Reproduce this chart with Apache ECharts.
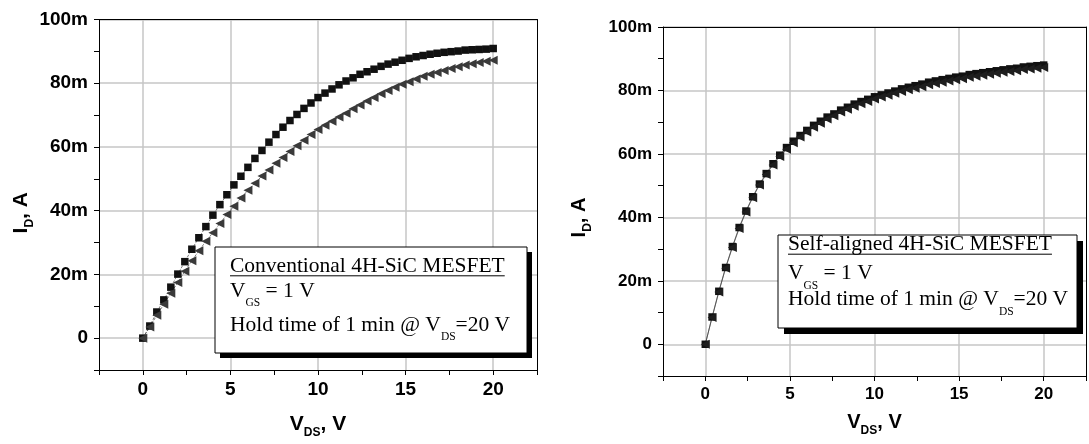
<!DOCTYPE html>
<html>
<head>
<meta charset="utf-8">
<script src="https://cdn.jsdelivr.net/npm/echarts@6/dist/echarts.min.js"></script>
<style>
html,body{margin:0;padding:0;background:#fff;}
#chart{width:1089px;height:444px;}
</style>
</head>
<body>
<div id="chart"></div>
<script>
// ---- data (V_DS in V, I_D in mA) ----
const vds = [0,0.4,0.8,1.2,1.6,2,2.4,2.8,3.2,3.6,4,4.4,4.8,5.2,5.6,6,6.4,6.8,7.2,7.6,8,8.4,8.8,9.2,9.6,10,10.4,10.8,11.2,11.6,12,12.4,12.8,13.2,13.6,14,14.4,14.8,15.2,15.6,16,16.4,16.8,17.2,17.6,18,18.4,18.8,19.2,19.6,20];
const convSquares = [0,3.8,8.2,12,16,20.1,24,27.9,31.5,35,38.6,41.9,45,48.1,50.8,53.6,56.4,58.9,61.5,63.9,66.2,68.3,70.2,72.1,73.8,75.5,76.9,78.2,79.5,80.7,81.7,82.8,83.6,84.4,85.3,86,86.6,87.2,87.8,88.3,88.7,89.1,89.4,89.7,89.9,90.1,90.4,90.5,90.6,90.7,90.9];
const convTriangles = [0,3.5,7.2,10.6,14.1,17.5,21,24.3,27.4,30.4,33.1,36,38.8,41.4,44,46.4,48.6,50.9,52.8,54.9,56.7,58.6,60.4,62.1,63.9,65.5,66.8,68.1,69.4,70.6,72,73.2,74.4,75.5,76.7,77.7,78.7,79.7,80.5,81.3,82.2,82.8,83.4,84,84.6,85.2,85.7,86.1,86.5,86.9,87.2];
const selfSquares = [0,8.6,16.7,24.2,30.8,36.8,42,46.5,50.5,53.8,56.9,59.6,62,64,65.8,67.4,69,70.3,71.6,72.6,73.8,74.7,75.7,76.5,77.2,78,78.6,79.2,79.8,80.5,81,81.5,82,82.6,83,83.4,83.8,84.2,84.5,85,85.3,85.6,85.9,86.2,86.5,86.8,87,87.4,87.6,87.8,88];
const selfTriangles = [0,8.4,16.5,24,30.5,36.5,41.7,46.2,50.2,53.5,56.5,59.2,61.5,63.5,65.3,66.9,68.4,69.7,71,72,73.2,74.1,75,75.8,76.5,77.3,77.9,78.5,79.1,79.7,80.2,80.7,81.2,81.8,82.2,82.6,83,83.4,83.7,84.2,84.5,84.8,85.1,85.4,85.7,86,86.2,86.6,86.8,87,87.2];
const xTickLabels = ['0','5','10','15','20'];
const yTickLabels = ['0','20m','40m','60m','80m','100m'];
const leftBoxLines = ['Conventional 4H-SiC MESFET', ['V','GS',' = 1 V'], ['Hold time of 1 min @ V','DS','=20 V']];
const rightBoxLines = ['Self-aligned 4H-SiC MESFET', ['V','GS',' = 1 V'], ['Hold time of 1 min @ V','DS','=20 V']];

const pairs = (ys) => vds.map((x, i) => [x, ys[i]]);
const SANS = '"Liberation Sans", Arial, sans-serif';
const SERIF = '"Liberation Serif", "Times New Roman", serif';
const GRID = '#c6c6c6';

function xLab(v){ const k = Math.round(v/5); return Math.abs(v - k*5) < 1e-6 ? xTickLabels[k] || '' : ''; }
function yLab(v){ const k = Math.round(v/20); return Math.abs(v - k*20) < 1e-6 && k >= 0 ? yTickLabels[k] || '' : ''; }

function xAxes(gridIndex, fs, nameGap, nameFs) {
  return [{
    type: 'value', gridIndex, min: -2.5, max: 22.5, interval: 2.5,
    axisLine: {show: true, onZero: false, lineStyle: {color: '#000', width: 1}},
    axisTick: {show: true, inside: false, length: 5, lineStyle: {color: '#000'}},
    axisLabel: {formatter: xLab, fontSize: fs, fontWeight: 'bold', fontFamily: SANS, color: '#000', margin: 10},
    splitLine: {show: true, showMinLine: true, showMaxLine: true, lineStyle: {color: ['rgba(0,0,0,0)', GRID], width: 1.5}},
    name: '{b|V}{s|DS}{b|, V}', nameLocation: 'middle', nameGap: nameGap,
    nameTextStyle: {rich: {
      b: {fontSize: nameFs, fontWeight: 'bold', fontFamily: SANS, color: '#000', lineHeight: nameFs + 2, verticalAlign: 'top'},
      s: {fontSize: 12, fontWeight: 'bold', fontFamily: SANS, color: '#000', lineHeight: 12, verticalAlign: 'top', padding: [13, 0, 0, 0]}
    }}
  }, {
    type: 'value', gridIndex, position: 'top', min: -2.5, max: 22.5, interval: 2.5,
    axisLine: {show: true, onZero: false, lineStyle: {color: '#000', width: 1}},
    axisTick: {show: false}, axisLabel: {show: false}, splitLine: {show: false}
  }];
}
function yAxes(gridIndex, fs, nameGap, nameFs, shift) {
  return [{
    type: 'value', gridIndex, min: -10, max: 100, interval: 10,
    axisLine: {show: true, onZero: false, lineStyle: {color: '#000', width: 1}},
    axisTick: {show: true, inside: false, length: 5, lineStyle: {color: '#000'}},
    axisLabel: {formatter: yLab, fontSize: fs, fontWeight: 'bold', fontFamily: SANS, color: '#000', margin: 11},
    splitLine: {show: true, showMinLine: true, showMaxLine: true, lineStyle: {color: ['rgba(0,0,0,0)', GRID], width: 1.5}},
    name: '{b|I}{s|D}{b|, A}', nameLocation: 'middle', nameGap: nameGap, nameRotate: 90,
    nameTextStyle: {padding: [0, shift, 0, 0], rich: {
      b: {fontSize: nameFs, fontWeight: 'bold', fontFamily: SANS, color: '#000', lineHeight: nameFs + 2, verticalAlign: 'top'},
      s: {fontSize: 12, fontWeight: 'bold', fontFamily: SANS, color: '#000', lineHeight: 12, verticalAlign: 'top', padding: [13, 0, 0, 0]}
    }}
  }, {
    type: 'value', gridIndex, position: 'right', min: -10, max: 100, interval: 10,
    axisLine: {show: true, onZero: false, lineStyle: {color: '#000', width: 1}},
    axisTick: {show: false}, axisLabel: {show: false}, splitLine: {show: false}
  }];
}

function series(xi, yi, data, symbol, color, size, lineType) {
  return {
    type: 'line', xAxisIndex: xi, yAxisIndex: yi, data: data,
    symbol: symbol, symbolSize: size, symbolRotate: symbol === 'triangle' ? 90 : 0,
    showSymbol: true, animation: false, silent: true,
    itemStyle: {color: color, borderWidth: 0},
    lineStyle: {color: '#444', width: 0.7, type: lineType}
  };
}

// text measurement for the annotation boxes
const mctx = document.createElement('canvas').getContext('2d');
function tw(text, font){ mctx.font = font; return mctx.measureText(text).width; }

function boxGraphics(bx, by, bw, bh, sh, tx, baselines, lines) {
  const FS = 21.5, SFS = 11.5;
  const mainFont = FS + 'px ' + SERIF;
  const subFont = SFS + 'px ' + SERIF;
  const els = [];
  els.push({type: 'rect', shape: {x: bx + sh, y: by + sh, width: bw, height: bh}, style: {fill: '#000'}, z: 100});
  els.push({type: 'rect', shape: {x: bx, y: by, width: bw, height: bh}, style: {fill: '#fff', stroke: '#000', lineWidth: 1}, z: 101});
  lines.forEach((ln, i) => {
    const base = baselines[i];
    if (typeof ln === 'string') {
      els.push({type: 'text', x: tx, y: base - 0.34 * FS, style: {text: ln, font: mainFont, fill: '#000', verticalAlign: 'middle'}, z: 102});
      const w = tw(ln, mainFont);
      els.push({type: 'line', shape: {x1: tx, y1: base + 2.5, x2: tx + w, y2: base + 2.5}, style: {stroke: '#000', lineWidth: 1}, z: 102});
    } else {
      let x = tx;
      ln.forEach((seg, j) => {
        const isSub = j === 1;
        const font = isSub ? subFont : mainFont;
        const b = isSub ? base + 9 : base;
        els.push({type: 'text', x: x, y: b - 0.34 * (isSub ? SFS : FS), style: {text: seg, font: font, fill: '#000', verticalAlign: 'middle'}, z: 102});
        x += tw(seg, font);
      });
    }
  });
  return els;
}

const chart = echarts.init(document.getElementById('chart'), null, {renderer: 'canvas'});
const option = {
  backgroundColor: '#fff',
  animation: false,
  grid: [
    {left: 99, top: 19.5, width: 438, height: 354, containLabel: false},
    {left: 663, top: 27, width: 437.5, height: 349, containLabel: false}
  ],
  xAxis: [...xAxes(0, 19, 44, 21), ...xAxes(1, 17, 36, 20)],
  yAxis: [...yAxes(0, 19, 64, 21, 36), ...yAxes(1, 17, 72, 20, 32)],
  series: [
    series(0, 0, pairs(convSquares), 'rect', '#111', 7.5, 'dashed'),
    series(0, 0, pairs(convTriangles), 'triangle', '#3a3a3a', 9, 'dashed'),
    series(2, 2, pairs(selfSquares), 'rect', '#111', 7.5, 'solid'),
    series(2, 2, pairs(selfTriangles), 'triangle', '#1e1e1e', 9, 'solid')
  ],
  graphic: [
    ...boxGraphics(215, 247, 312, 106, 5, 230, [273.3, 298.3, 332.3], leftBoxLines),
    ...boxGraphics(778, 235, 299, 93, 6, 788, [251.7, 281, 306.5], rightBoxLines)
  ]
};
chart.setOption(option);
</script>
</body>
</html>
